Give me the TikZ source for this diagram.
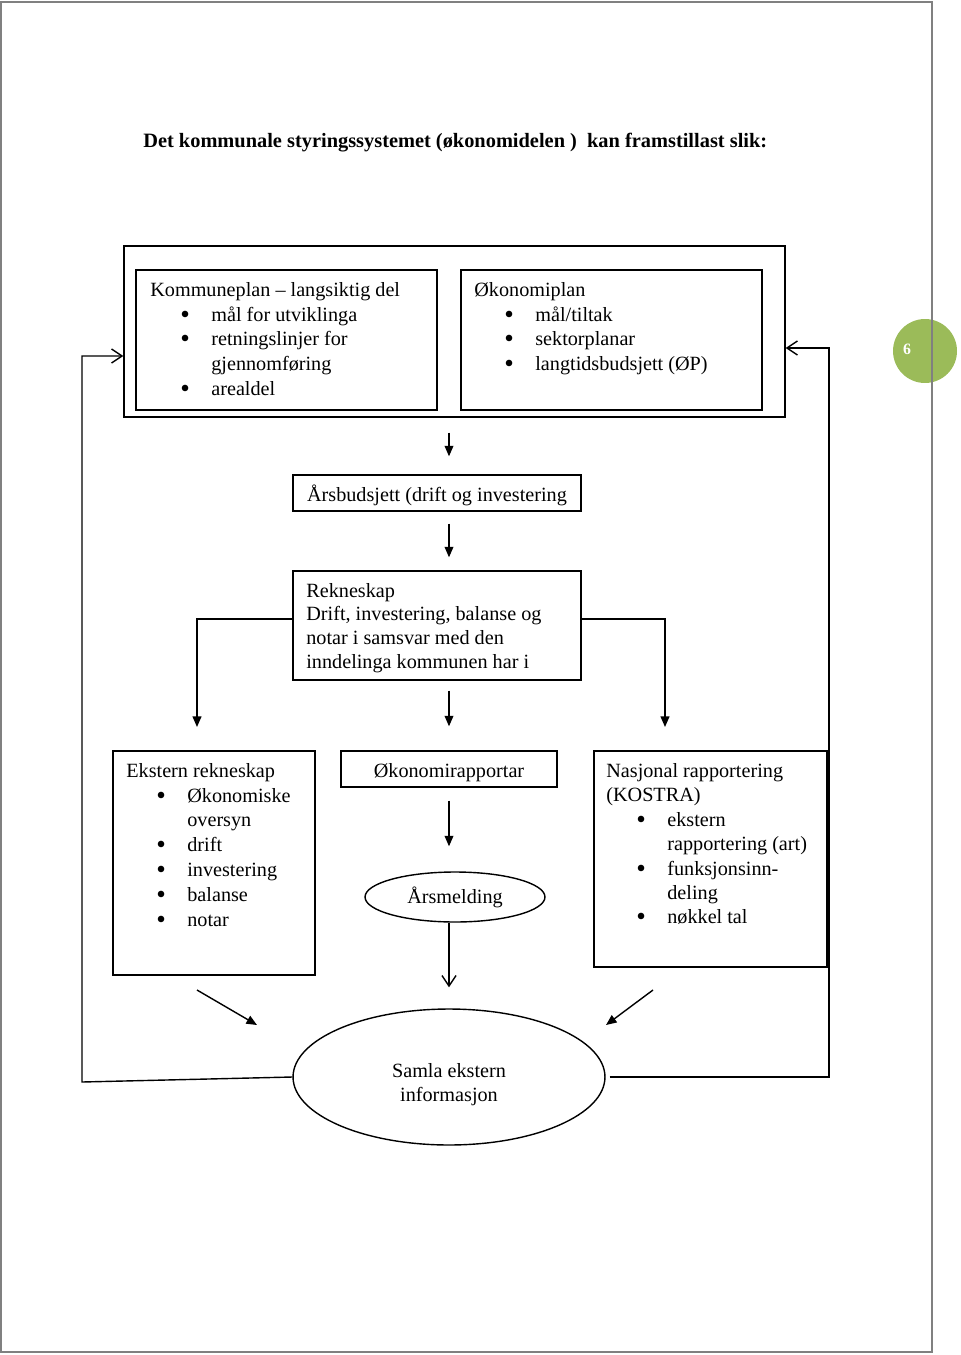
\documentclass[tikz,border=0pt]{standalone}
\usepackage{fontspec}
\setmainfont{Liberation Serif}
\usetikzlibrary{arrows.meta,shapes.geometric}
\definecolor{dotgreen}{RGB}{155,187,89}
\newcommand{\bitem}{\hspace*{0.6cm}\makebox[0.62cm][l]{\raisebox{-0.1em}{\scalebox{1.35}{\textbullet}}}}
\newcommand{\bcont}{\hspace*{1.22cm}}
\tikzset{
  box/.style={draw, line width=0.8pt, inner sep=0pt},
  oval/.style={draw, ellipse, line width=0.8pt, inner sep=0pt},
  txt/.style={anchor=north west, align=left, inner sep=0pt},
  fillarrow/.style={line width=0.8pt, -{Triangle[length=6pt,width=5pt]}},
  openarrow/.style={line width=0.8pt, -{Straight Barb[length=6pt,width=8pt]}},
}
\begin{document}
\begin{tikzpicture}[x=0.02cm, y=-0.02cm, font=\fontsize{11.5}{14.1}\selectfont]
\useasboundingbox (0,0) rectangle (960,1355);
 % page number and frame:
\node[circle, fill=dotgreen, minimum size=1.28cm, inner sep=0pt] (pagedot) at (925,351) {};
\node[text=white, font=\fontsize{9}{10}\selectfont\bfseries] (pagenum) at (907,349) {6};
\draw[gray, line width=0.6pt] (1,2) rectangle (932,1352);
 % title:
\node[anchor=base west, inner sep=0pt, font=\fontsize{11.6}{14}\selectfont\bfseries] (title) at (143,148) {Det kommunale styringssystemet (økonomidelen )\ \ kan framstillast slik:};
 % top box with the two plans:
\node[box, minimum width=13.22cm, minimum height=3.42cm] (outer) at (454.5,331.5) {};
\node[box, minimum width=6.02cm, minimum height=2.8cm] (kplan) at (286.5,340) {};
\node[box, minimum width=6.02cm, minimum height=2.8cm] (oplan) at (611.5,340) {};
\node[txt] (kplantxt) at (150,282) {Kommuneplan – langsiktig del\\ \bitem mål for utviklinga\\ \bitem retningslinjer for\\ \bcont gjennomføring\\ \bitem arealdel};
\node[txt] (oplantxt) at (474,282) {Økonomiplan\\ \bitem mål/tiltak\\ \bitem sektorplanar\\ \bitem langtidsbudsjett (ØP)};
 % budget and accounts:
\node[box, minimum width=5.76cm, minimum height=0.72cm, text height=1.2em, text depth=0.25em] (budsjett) at (437,493) {Årsbudsjett (drift og investering};
\node[box, minimum width=5.76cm, minimum height=2.18cm] (rekneskap) at (437,625.5) {};
\node[txt, font=\fontsize{11.5}{13.4}\selectfont] (rektxt) at (306,583) {Rekneskap\\ Drift, investering, balanse og\\ notar i samsvar med den\\ inndelinga kommunen har i};
 % lower row:
\node[box, minimum width=4.04cm, minimum height=4.48cm] (ekstern) at (214,863) {};
\node[txt] (eksterntxt) at (126,763) {Ekstern rekneskap\\ \bitem Økonomiske\\ \bcont oversyn\\ \bitem drift\\ \bitem investering\\ \bitem balanse\\ \bitem notar};
\node[box, minimum width=4.32cm, minimum height=0.72cm, text height=1.2em, text depth=0.25em] (orapp) at (449,769) {Økonomirapportar};
\node[oval, minimum width=3.6cm, minimum height=1cm] (arsmeld) at (455,897) {Årsmelding};
\node[box, minimum width=4.66cm, minimum height=4.32cm] (nasjonal) at (710.5,859) {};
\node[txt, font=\fontsize{11.5}{13.9}\selectfont] (nasjtxt) at (606,763) {Nasjonal rapportering\\ (KOSTRA)\\ \bitem ekstern\\ \bcont rapportering (art)\\ \bitem funksjonsinn-\\ \bcont deling\\ \bitem nøkkel tal};
\node[oval, minimum width=6.24cm, minimum height=2.72cm] (samla) at (449,1077) {};
\node[align=center, inner sep=0pt, font=\fontsize{11.5}{13.6}\selectfont] (samlatxt) at (449,1085) {Samla ekstern\\ informasjon};
 % arrows down the middle:
\coordinate (mid) at (449,0);
\draw[fillarrow, shorten <=0.3cm, shorten >=0.36cm] (mid |- outer.south) -- (mid |- budsjett.north);
\draw[fillarrow, shorten <=0.24cm, shorten >=0.26cm] (mid |- budsjett.south) -- (mid |- rekneskap.north);
\draw[fillarrow, shorten <=0.2cm, shorten >=0.48cm] (mid |- rekneskap.south) -- (mid |- orapp.north);
\draw[fillarrow, shorten <=0.26cm, shorten >=0.5cm] (mid |- orapp.south) -- (mid |- arsmeld.north);
\draw[openarrow, shorten >=0.42cm] (mid |- arsmeld.south) -- (mid |- samla.north);
 % split from the accounts:
\coordinate (lsplit) at (197,727);
\coordinate (rsplit) at (665,727);
\draw[fillarrow] ([yshift=0.13cm]rekneskap.west) -| (lsplit);
\draw[fillarrow] ([yshift=0.13cm]rekneskap.east) -| (rsplit);
 % into the ellipse:
\coordinate (ldiag) at (197,990);
\coordinate (ldiagend) at (257,1025);
\coordinate (rdiag) at (653,990);
\coordinate (rdiagend) at (606,1025);
\draw[fillarrow] (ldiag) -- (ldiagend);
\draw[fillarrow] (rdiag) -- (rdiagend);
 % feedback lines:
\coordinate (lfoot) at (82,1082);
\coordinate (lhead) at (82,356);
\draw[openarrow] (samla.west) -- (lfoot) -- (lhead) -- (lhead -| outer.west);
\coordinate (rfoot) at (829,1077);
\coordinate (rhead) at (829,348);
\draw[openarrow, shorten <=0.08cm] (samla.east) -- (rfoot) -- (rhead) -- (rhead -| outer.east);
\end{tikzpicture}
\end{document}
